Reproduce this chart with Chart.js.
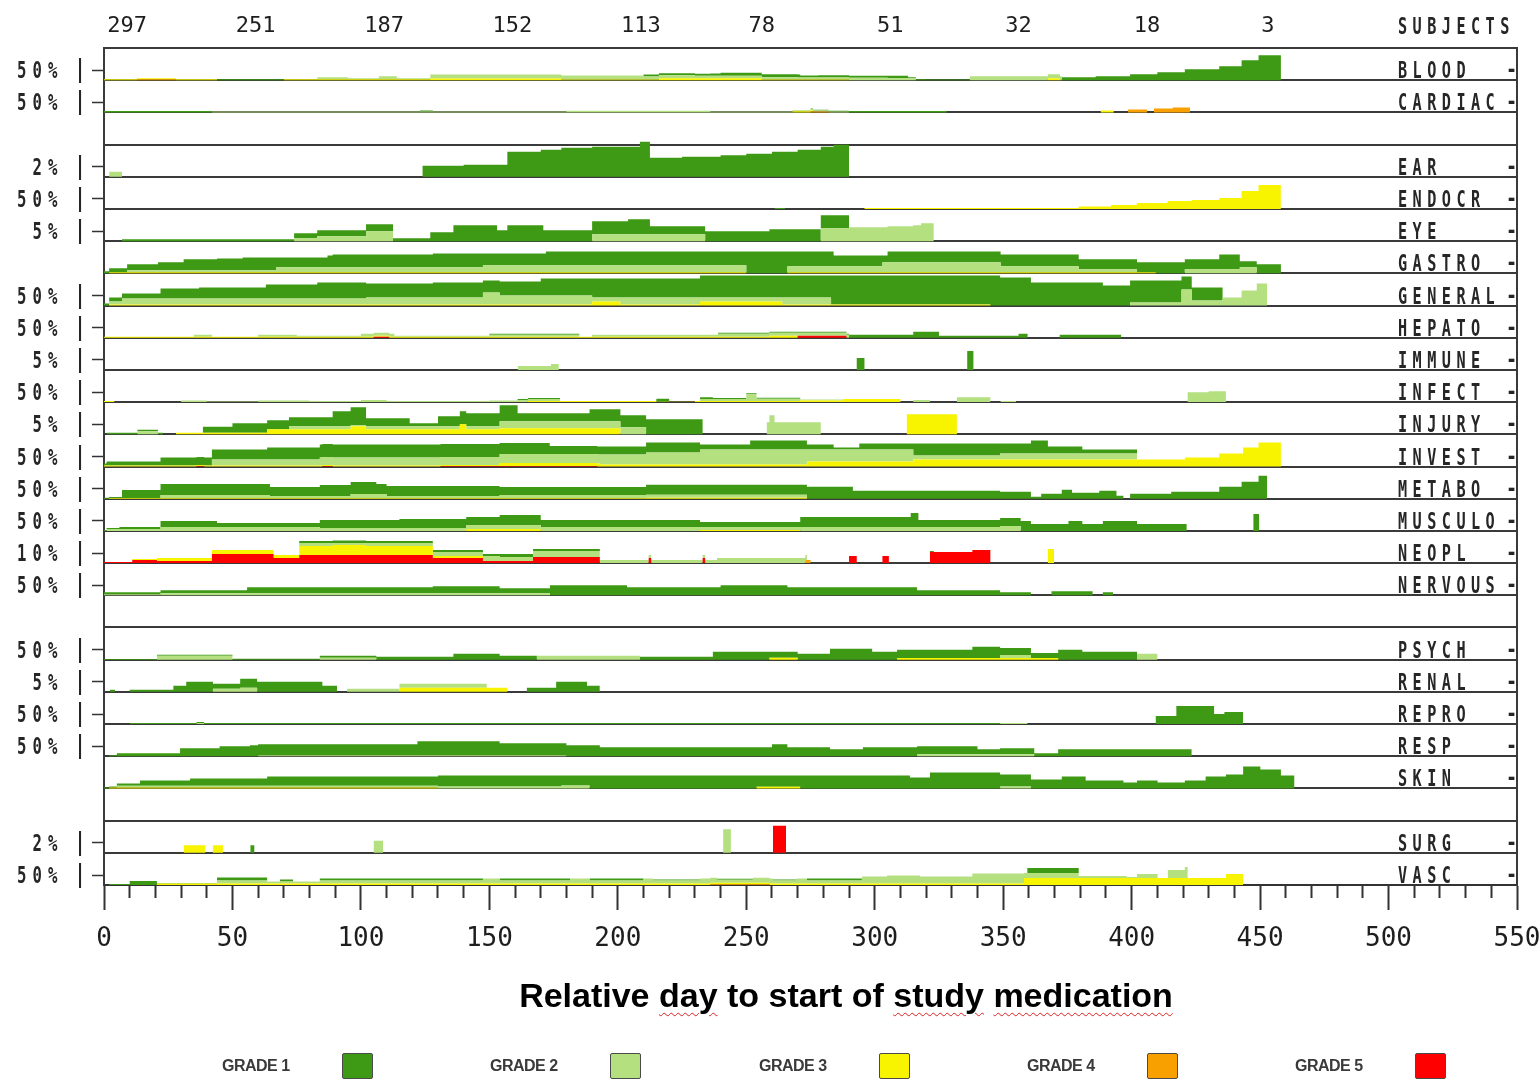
<!DOCTYPE html>
<html>
<head>
<meta charset="utf-8">
<title>Adverse events by body system over time</title>
<script src="https://cdn.jsdelivr.net/npm/chart.js@4.4.1/dist/chart.umd.min.js"></script>
<style>
  body { margin: 0; background: #fff; }
  #wrap { position: relative; width: 1539px; height: 1080px; }
  #xtitle {
    position: absolute; left: 346px; width: 1000px; top: 975px;
    text-align: center; font: bold 34px "Liberation Sans", Arial, sans-serif;
    line-height: 40px; color: #000;
  }
  .sq { text-decoration: underline wavy #e02020; text-decoration-thickness: 1px; text-underline-offset: 5px; }
  .leg { position: absolute; top: 1057px; font: bold 16px "Liberation Sans", Arial, sans-serif; color: #3a3a3a; letter-spacing: -0.5px; }
  .box { position: absolute; top: 1053px; width: 29px; height: 24px; border: 1.5px solid #4a4a4a; border-radius: 2px; }
</style>
</head>
<body>
<div id="wrap">
  <canvas id="aeChart"></canvas>
  <div id="xtitle">Relative <span class="sq">day</span> to start of <span class="sq">study</span> <span class="sq">medication</span></div>
  <div id="legend"></div>
</div>
<script>
// rows from top to bottom, blank rows are spacers
const rowNames = ['BLOOD','CARDIAC','','EAR','ENDOCR','EYE','GASTRO','GENERAL','HEPATO','IMMUNE','INFECT','INJURY','INVEST',
  'METABO','MUSCULO','NEOPL','NERVOUS','','PSYCH','RENAL','REPRO','RESP','SKIN','','SURG','VASC'];
// percent shown at the small left tick of each row ('' = no tick)
const tickLabels = ['50%','50%','','2%','50%','5%','','50%','50%','5%','50%','5%','50%','50%','50%','10%','50%','','50%','5%','50%','50%','','','2%','50%'];
const rowScale = [50,50,50,2,50,5,50,50,50,5,50,5,50,50,50,10,50,50,50,5,50,50,50,50,2,50];

const subjectDays = [9, 59, 109, 159, 209, 256, 306, 356, 406, 453];
const subjectCounts = ['297','251','187','152','113','78','51','32','18','3'];

const gradeNames = ['GRADE 1','GRADE 2','GRADE 3','GRADE 4','GRADE 5'];
const gradeColors = ['#3e9a14','#b4e080','#f8f400','#f7a000','#ff0000'];

// each row: [grade1, grade2, grade3, grade4, grade5], steps of [day, % of subjects]
const BLOOD = [
  [[44,5],[70,0],[210,10],[236,12],[240,15],[271,10],[278,12],[290,10],[305,12],[313,5],[320,3],[337,0],[372.8,15],[386,20],[399.4,30],[410,40],[420.7,55],[434.1,70],[442.8,100],[449.4,125],[458.1,0]],
  [[83,10],[95,5],[107,15],[114,5],[127,20],[210,15],[230,12],[270,10],[290,12],[305,10],[316,0],[337,20],[372.8,0]],
  [[0,5],[44,0],[70,5],[127,8],[178,3],[216,10],[256,3],[290,0],[367.4,10],[372.1,0]],
  [[13,5],[28,0]],
  []
];
const CARDIAC = [
  [[0,7],[42,0],[123,5],[128,0],[275,3],[290,7],[328,0]],
  [[42,4],[180,8],[236,4],[268,5],[290,0]],
  [[268,6],[276,0],[388,10],[393,0]],
  [[275,5],[282,0],[398.6,15],[406,0],[408.7,20],[416,25],[422.7,0]],
  []
];
const EAR = [
  [[124,2.2],[140,2.4],[157,5],[170,5.4],[178,5.8],[190,6],[208.6,7],[212.5,3.8],[225,4],[240,4.3],[250,4.6],[260,5],[270,5.4],[279,6],[284,6.4],[290,0]],
  [[2,1],[7,0]],
  [], [], []
];
const ENDOCR = [
  [[261,5],[265,0]],
  [],
  [[296,5],[379.4,12],[392,20],[402,30],[414,40],[423.4,45],[434.1,55],[442.8,90],[449.4,120],[458.1,0]],
  [], []
];
const EYE = [
  [[7,1],[74,2.5],[83,3],[102,3.5],[112.5,1.5],[127,4.5],[136,8],[153,5.5],[157,8],[171,5.5],[190,6.5],[204,7.5],[212.5,4],[234,5],[259,6],[279,6.5],[290,0]],
  [[74,1.5],[83,2.5],[102,5],[112.5,0],[190,3.5],[234,0],[279,6.5],[290,7],[305,7.5],[315,8],[318,9],[323,0]],
  [], [], []
];
const GASTRO = [
  [[0,10],[2,20],[9,30],[21,40],[31,55],[44,60],[54,65],[67,50],[87,60],[89,65],[128,70],[147.5,60],[172,70],[250,110],[266,75],[284,55],[303,35],[305,55],[349,60],[379.4,50],[409.4,55],[420.7,50],[434.1,75],[442.1,30],[448.7,45],[458.1,0]],
  [[9,10],[67,25],[147.5,35],[250,0],[266,30],[303,50],[349,30],[379.4,15],[402.1,0],[420.7,20],[442.1,30],[448.7,0]],
  [[2,5],[250,0],[266,5],[409.4,0]],
  [], []
];
const GENERAL = [
  [[0,10],[2,20],[7,25],[22,50],[37,55],[63,70],[83,80],[102,70],[128,75],[147.5,60],[154,70],[170,85],[190,95],[232,110],[283,145],[345,150],[348.8,140],[360.8,115],[388.8,100],[399.4,110],[419.4,65],[435.4,0]],
  [[2,15],[7,30],[102,35],[147.5,60],[154,45],[190,20],[201,35],[232,20],[264,35],[283,0],[399.4,15],[419.4,80],[423.4,25],[435.4,40],[442.8,75],[448.7,110],[452.8,0]],
  [[2,5],[190,20],[201,5],[232,20],[264,5],[345,0]],
  [], []
];
const HEPATO = [
  [[150,5],[185,0],[239,5],[290,15],[315,30],[325,10],[356,20],[359.5,0],[372,15],[396,0]],
  [[35,10],[42,0],[60,10],[75,5],[100,15],[113,5],[150,10],[185,0],[190,10],[239,15],[290,0]],
  [[0,5],[259,10],[270,0]],
  [],
  [[105,5],[111,0],[270,10],[289,0]]
];
const IMMUNE = [
  [[293,6],[296,0],[336,9.5],[338.5,0]],
  [[161,2],[174,3],[177,0]],
  [], [], []
];
const INFECT = [
  [[161,5],[177.5,0],[215,15],[220,0],[232,10],[237,5],[271,0]],
  [[30,8],[40,3],[60,8],[80,5],[100,10],[110,5],[150,8],[161,10],[177.5,0],[232,10],[250,35],[254,12],[271,5],[288,0],[315,10],[321.5,0],[332,25],[345,0],[349,5],[355,0],[421.8,50],[430,55],[436.7,0]],
  [[0,5],[4,0],[165,5],[215,2],[230,5],[271,8],[288,15],[310,0]],
  [], []
];
const INJURY = [
  [[1,0.75],[23,0],[38.5,3],[50,4.75],[63.5,4.5],[89,7.5],[96,9],[102,4],[119,1.5],[130,5],[138.5,6.5],[154,8],[161,4],[189,6],[211,7.5],[233,0]],
  [[13,1.5],[21,0],[72,1.5],[96,0.5],[102,1.5],[138.5,0],[141,1.5],[154,3.5],[211,0],[258,6],[259,9.5],[261,6],[279,0]],
  [[28,0.75],[63.5,2.5],[96,4],[102,2.5],[138.5,5],[141,2.5],[154,3],[201,0],[312.5,10],[332,0]],
  [], []
];
const INVEST = [
  [[0,10],[1,20],[22,40],[42,50],[63.5,60],[84,65],[154,55],[173.5,40],[211,50],[232,25],[251.5,45],[273.6,25],[284,10],[294,30],[315,60],[348.8,50],[360.8,65],[367.4,35],[380.8,20],[402.1,0]],
  [[42,30],[84,40],[154,45],[193,50],[211,60],[232,75],[273.6,60],[315,20],[348.8,30],[402.1,0]],
  [[0,5],[154,15],[193,10],[273.6,25],[315,35],[420.7,45],[434.1,65],[443.4,95],[449.4,120],[458.1,0]],
  [],
  [[36,3],[39,0],[85,3],[89,0],[131,3],[192,0]]
];
const METABO = [
  [[0,5],[7,40],[22,55],[64.6,45],[84,55],[96,60],[106,50],[154,40],[211,50],[273.6,60],[291.5,40],[348.8,35],[360.8,10],[364.8,25],[372.8,45],[376.8,30],[387.4,40],[394.1,15],[396.8,0],[399.4,25],[415.4,35],[434.1,60],[442.8,85],[449.4,115],[452.8,0]],
  [[22,15],[64.6,10],[96,20],[110,10],[154,15],[273.6,0]],
  [[2,4],[211,5],[273.6,0]],
  [], []
];
const MUSCULO = [
  [[0,5],[6,10],[22,30],[44,20],[84,40],[115,45],[141,40],[154,50],[170,35],[232,25],[271,50],[314,70],[317,35],[348.8,40],[356.8,50],[360.8,35],[375.4,50],[380.8,35],[388.8,50],[402.1,35],[421.4,0],[447.4,85],[449.7,0]],
  [[1,10],[22,20],[84,15],[141,20],[232,15],[271,20],[348.8,25],[356.8,0]],
  [[141,10],[170,0],[232,5],[271,0]],
  [], []
];
const NEOPL = [
  [[76,2],[89,2.5],[102,2],[154,3],[167,2],[193,0],[321.5,1],[323,0]],
  [[76,3],[89,2],[102,3],[128,4],[147.5,5],[154,4],[167,6],[193,3],[238.6,5],[273.6,0]],
  [[11,1],[20.6,3],[42,4],[66,3],[76,9],[89,10],[102,9],[128,2],[147.5,0],[367.4,14],[369.8,0]],
  [[273,3],[275,0]],
  [[0,1],[11,3],[20.6,2],[42,9],[66,5],[76,8],[128,5],[147.5,2],[167,6],[193,0],[212,5],[213,0],[233,5],[234,0],[290,7],[293,0],[303,7],[305.5,0],[321.5,11],[338,13],[345,0]]
];
const NERVOUS = [
  [[0,10],[22,15],[55.7,30],[128,35],[154,25],[173.6,50],[203.6,40],[240,50],[266,40],[316.5,25],[348.8,15],[360.8,0],[368.8,20],[384.8,0],[388.8,15],[392.8,0]],
  [[0,5],[22,10],[173.6,0]],
  [], [], []
];
const PSYCH = [
  [[0,3],[20.6,5],[50,5],[84,10],[106,15],[136,30],[154,20],[168.5,0],[208.6,15],[237,40],[259,30],[282.6,55],[299,40],[308.7,42],[338,57],[348.8,35],[360.8,25],[371.4,50],[380.8,40],[402.1,0]],
  [[20.6,20],[50,0],[84,10],[106,0],[168.5,20],[208.6,0],[348.8,15],[360.8,0],[402.1,30],[410.1,0]],
  [[259,10],[270,0],[308.7,8],[371.4,0]],
  [], []
];
const RENAL = [
  [[2.3,1],[4.3,0],[10,1],[27,3],[32,5],[42.4,2.5],[53,4.5],[59.6,5],[85,3],[90.7,0],[164.6,2],[176,5],[188,3],[193,0]],
  [[42.4,1.5],[53,2],[59.6,0],[94.6,1.5],[115,2],[149,0]],
  [[115,2],[157,0]],
  [], []
];
const REPRO = [
  [[10,5],[348.8,0],[409.4,40],[417.4,90],[432.1,50],[436.1,60],[443.4,0]],
  [[36,5],[39,0],[348.8,5],[359.4,0]],
  [], [], []
];
const RESP = [
  [[2,5],[5,15],[29.6,40],[45,50],[56.8,55],[122,70],[154,60],[180,55],[193,45],[260,60],[266,45],[282.6,35],[295.4,45],[316.5,40],[340,25],[348.8,30],[362.1,15],[371.4,35],[423.4,0]],
  [[60,5],[180,0],[316.5,10],[362.1,0]],
  [], [], []
];
const SKIN = [
  [[0,5],[5,12],[14,27],[33.5,37],[63.5,47],[130,55],[178,50],[189,65],[254,57],[271,65],[313.7,55],[321.5,80],[348.8,60],[360.8,45],[372.8,60],[382.1,40],[396.8,30],[402.1,40],[410.1,30],[420.7,40],[428.8,60],[436.7,70],[443.4,110],[450.1,95],[458.1,65],[463.4,0]],
  [[5,8],[130,10],[178,15],[189,0],[348.8,10],[360.8,0]],
  [[2,5],[130,0],[254,8],[271,0]],
  [], []
];
const SURG = [
  [[57,1.5],[58.5,0]],
  [[105,2.4],[108.6,0],[241,4.7],[244,0]],
  [[31,1.5],[39.4,0],[42.4,1.5],[46.3,0]],
  [],
  [[260.4,5.4],[265.5,0]]
];
const VASC = [
  [[2,5],[10,20],[20.6,3],[44,15],[63.5,0],[68.5,10],[73.6,0],[84,10],[147.5,0],[154,10],[181.4,0],[189,10],[210,0],[213.7,5],[232,0],[238.6,5],[252.6,0],[260.4,5],[269.7,0],[273.6,10],[295,0],[359.4,25],[379.4,0]],
  [[44,15],[63.5,10],[84,15],[147.5,25],[154,15],[181.4,25],[189,15],[210,25],[213.7,15],[232,25],[238.6,15],[252.6,25],[260.4,15],[269.7,25],[273.6,15],[295,35],[304.8,40],[317.6,35],[338,50],[358.1,25],[379.4,10],[398.1,5],[402.1,20],[410.1,0],[414.1,40],[420.7,55],[421.8,0]],
  [[20.6,7],[358.1,35],[436.7,55],[443.4,0]],
  [[236,4],[259,0]],
  []
];
const EMPTY = [[], [], [], [], []];

const rowData = [BLOOD, CARDIAC, EMPTY, EAR, ENDOCR, EYE, GASTRO, GENERAL, HEPATO, IMMUNE, INFECT, INJURY, INVEST,
  METABO, MUSCULO, NEOPL, NERVOUS, EMPTY, PSYCH, RENAL, REPRO, RESP, SKIN, EMPTY, SURG, VASC];

const NROWS = rowNames.length;
const TICK_FRAC = 0.31;   // left tick sits at this fraction of a row

function stepAt(series, day) {
  let v = 0;
  for (const p of series) {
    if (p[0] <= day) v = p[1]; else break;
  }
  return v;
}

// stacked step areas, grade 5 at the bottom of each row, grade 1 on top
let datasets = [];
rowData.forEach((grades, i) => {
  const base = NROWS - 1 - i;
  const k = TICK_FRAC / rowScale[i];
  let xs = [];
  grades.forEach(g => g.forEach(p => xs.push(p[0])));
  xs = [...new Set(xs)].sort((a, b) => a - b);
  if (!xs.length) return;
  let cum = xs.map(() => 0);
  let prev = null;
  for (let g = 4; g >= 0; g--) {
    if (!grades[g].length) continue;
    cum = cum.map((c, j) => c + stepAt(grades[g], xs[j]));
    datasets.push({
      label: rowNames[i] + ' ' + gradeNames[g],
      data: xs.map((x, j) => ({ x: x, y: base + k * cum[j] })),
      xAxisID: 'x',
      yAxisID: 'y',
      stepped: true,
      borderWidth: 0,
      pointRadius: 0,
      backgroundColor: gradeColors[g],
      fill: prev === null ? { value: base } : prev
    });
    prev = datasets.length - 1;
  }
});

function drawSpaced(ctx, text, x, y, pitch, size, sx, weight) {
  ctx.save();
  ctx.translate(x, y);
  ctx.scale(sx, 1);
  ctx.font = (weight || '') + ' ' + size + 'px "DejaVu Sans Mono", monospace';
  const adv = ctx.measureText('M').width;
  ctx.letterSpacing = (pitch / sx - adv) + 'px';
  ctx.textAlign = 'left';
  ctx.textBaseline = 'alphabetic';
  ctx.fillText(text, 0, 0);
  ctx.restore();
}

const rowText = {
  id: 'rowText',
  afterDraw(chart) {
    const ctx = chart.ctx;
    const ys = chart.scales.y;
    const area = chart.chartArea;
    ctx.save();
    ctx.fillStyle = '#262626';
    rowNames.forEach((name, i) => {
      const base = ys.getPixelForValue(NROWS - 1 - i);
      const tickY = ys.getPixelForValue(NROWS - 1 - i + TICK_FRAC);
      if (name) {
        drawSpaced(ctx, name, area.right - 119, base - 2, 14.6, 23, 0.66, 'bold');
        drawSpaced(ctx, '-', area.right - 11, tickY + 7, 14.6, 23, 0.8, 'bold');
      }
      const t = tickLabels[i];
      if (t) {
        const pitch = 15.5;
        const left = 58 - (t.length - 1) * pitch - 10;
        drawSpaced(ctx, t, left, base - 2, pitch, 23, 0.68, 'bold');
        ctx.font = '25px "DejaVu Sans Mono", monospace';
        ctx.textAlign = 'center';
        ctx.fillText('|', 80, tickY + 7);
      }
    });
    drawSpaced(ctx, 'SUBJECTS', area.right - 119, 34, 14.6, 23, 0.66, 'bold');
    ctx.restore();
  }
};

const ctx = document.getElementById('aeChart').getContext('2d');
const chart = new Chart(ctx, {
  type: 'line',
  data: { datasets: datasets },
  options: {
    responsive: true,
    maintainAspectRatio: false,
    animation: false,
    layout: { padding: 0 },
    plugins: { legend: { display: false }, tooltip: { enabled: false } },
    elements: { point: { radius: 0 }, line: { tension: 0 } },
    scales: {
      x: {
        type: 'linear', position: 'bottom', min: 0, max: 550,
        afterBuildTicks: s => { s.ticks = []; for (let v = 0; v <= 550; v += 10) s.ticks.push({ value: v }); },
        ticks: {
          autoSkip: false, maxRotation: 0, padding: 14, color: '#1e1e1e',
          font: { family: '"DejaVu Sans Mono", monospace', size: 26 },
          callback: v => (v % 50 === 0 ? String(v) : '')
        },
        grid: {
          drawOnChartArea: false, tickLength: 25, tickColor: '#333', tickWidth: 2,
          tickBorderDash: c => (c.tick && c.tick.value % 50 === 0 ? [] : [12, 40])
        },
        border: { display: true, color: '#333', width: 2 },
        afterFit: s => { s.height = 195; s.paddingLeft = 0; s.paddingRight = 0; }
      },
      xTop: {
        type: 'linear', position: 'top', min: 0, max: 550,
        afterBuildTicks: s => { s.ticks = subjectDays.map(v => ({ value: v })); },
        ticks: {
          autoSkip: false, maxRotation: 0, padding: 9, color: '#1e1e1e',
          font: { family: '"DejaVu Sans Mono", monospace', size: 22 },
          callback: (v, i) => subjectCounts[i]
        },
        grid: { display: false, drawTicks: false },
        border: { display: false },
        afterFit: s => { s.height = 48; s.paddingLeft = 0; s.paddingRight = 0; }
      },
      y: {
        type: 'linear', position: 'left', min: 0, max: NROWS,
        afterBuildTicks: s => {
          s.ticks = [];
          tickLabels.forEach((t, i) => { if (t) s.ticks.push({ value: NROWS - 1 - i + TICK_FRAC }); });
        },
        ticks: { display: false },
        grid: { drawOnChartArea: false, tickLength: 12, tickColor: '#333', tickWidth: 1.5 },
        border: { display: true, color: '#3a3a3a', width: 2 },
        afterFit: s => { s.width = 104; }
      },
      rows: {
        type: 'linear', position: 'right', min: 0, max: NROWS,
        afterBuildTicks: s => { s.ticks = []; for (let v = 0; v <= NROWS; v++) s.ticks.push({ value: v }); },
        ticks: { display: false },
        grid: { color: '#3a3a3a', lineWidth: 2, drawTicks: false },
        border: { display: true, color: '#3a3a3a', width: 2 },
        afterFit: s => { s.width = 22; }
      }
    }
  },
  plugins: [rowText]
});

// legend: label text followed by a colour box
const legendEl = document.getElementById('legend');
const legendLeft = [222, 490, 759, 1027, 1295];
gradeNames.forEach((g, i) => {
  const t = document.createElement('div');
  t.className = 'leg';
  t.style.left = legendLeft[i] + 'px';
  t.textContent = g;
  legendEl.appendChild(t);
  const b = document.createElement('div');
  b.className = 'box';
  b.style.left = (legendLeft[i] + 120) + 'px';
  b.style.background = gradeColors[i];
  legendEl.appendChild(b);
});
</script>
</body>
</html>
